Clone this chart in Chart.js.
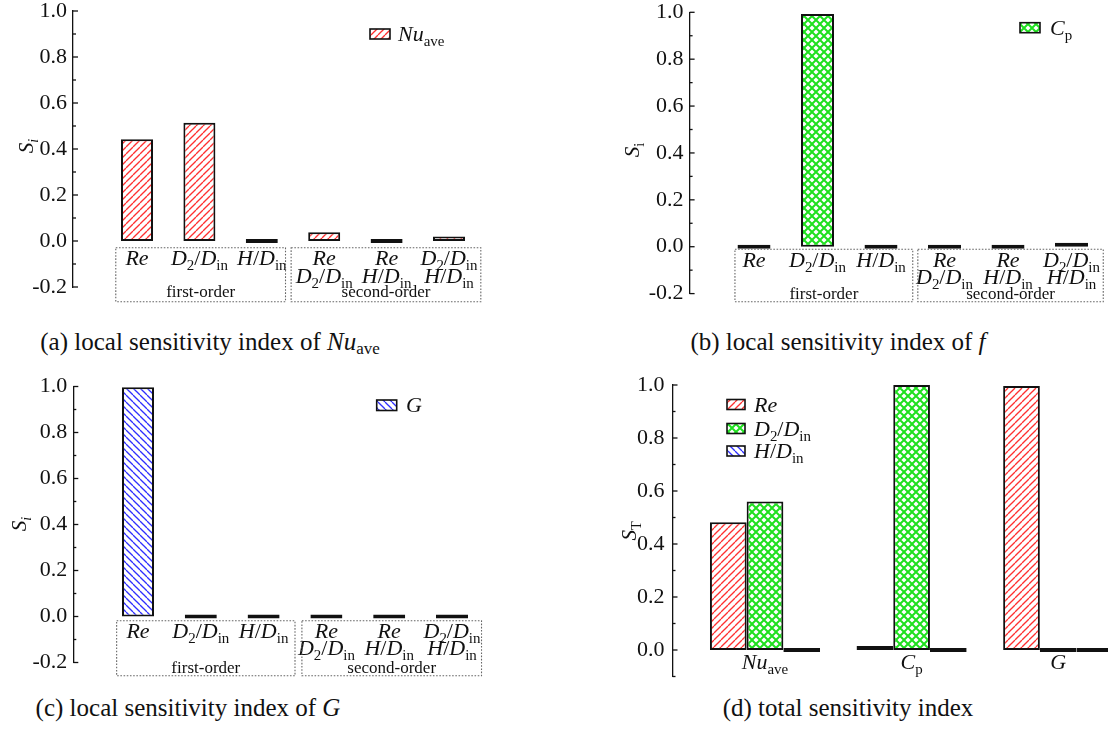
<!DOCTYPE html>
<html>
<head>
<meta charset="utf-8">
<title>Sensitivity indices</title>
<script src="https://cdn.jsdelivr.net/npm/chart.js@4.4.1/dist/chart.umd.min.js"></script>
<style>
  html, body { margin: 0; padding: 0; background: #fff; }
  #wrap { position: relative; width: 1108px; height: 738px; background: #fff; overflow: hidden; }
  #wrap canvas { position: absolute; }
  .cap { position: absolute; font-family: "Liberation Serif", "Times New Roman", serif; font-size: 25px;
         line-height: 25px; color: #111; white-space: nowrap; transform: translateX(-50%); }
  .cap .s { font-size: 0.68em; position: relative; top: 0.24em; }
</style>
</head>
<body>
<div id="wrap">
  <canvas id="pa"></canvas>
  <canvas id="pb"></canvas>
  <canvas id="pc"></canvas>
  <canvas id="pd"></canvas>
  <div class="cap" style="left:210px;top:329px">(a) local sensitivity index of <i>Nu</i><span class="s">ave</span></div>
  <div class="cap" style="left:838px;top:329px">(b) local sensitivity index of <i>f</i></div>
  <div class="cap" style="left:188px;top:695px">(c) local sensitivity index of <i>G</i></div>
  <div class="cap" style="left:848px;top:695px">(d) total sensitivity index</div>
</div>
<script>
// ---- data -------------------------------------------------------------
// Terms of the decomposition; "|" separates the two factors of an interaction term
const localTerms = ['Re', 'D_{2}/D_{in}', 'H/D_{in}', 'Re|D_{2}/D_{in}', 'Re|H/D_{in}', 'D_{2}/D_{in}|H/D_{in}'];
const termGroups = [
  { name: 'first-order', first: 0, last: 2 },
  { name: 'second-order', first: 3, last: 5 }
];
const localNu = [0.442, 0.514, 0, 0.038, 0, 0.02];
const localCp = [0, 0.993, 0, 0, 0, 0.006];
const localG  = [0.997, 0, 0, 0, 0, 0];

const responses = ['Nu_{ave}', 'C_{p}', 'G'];
const factors   = ['Re', 'D_{2}/D_{in}', 'H/D_{in}'];
const totalRe = [0.482, 0.006, 0.996];
const totalD2 = [0.56, 1.0, 0];
const totalH  = [0, 0, 0];

const localTicks = [-0.2, 0, 0.2, 0.4, 0.6, 0.8, 1.0];
const totalTicks = [0, 0.2, 0.4, 0.6, 0.8, 1.0];

// ---- drawing helpers --------------------------------------------------
const FONT = '"Liberation Serif", "Times New Roman", serif';
const INK = '#111';

function hatch(color, kind, gap, lw) {
  const c = document.createElement('canvas');
  c.width = c.height = gap;
  const g = c.getContext('2d');
  g.fillStyle = '#fff';
  g.fillRect(0, 0, gap, gap);
  g.strokeStyle = color;
  g.lineWidth = lw;
  for (let k = -1; k <= 1; k++) {
    g.beginPath();
    if (kind === '/' || kind === 'x') { g.moveTo(k * gap, gap); g.lineTo(k * gap + gap, 0); }
    if (kind === '\\' || kind === 'x') { g.moveTo(k * gap, 0); g.lineTo(k * gap + gap, gap); }
    g.stroke();
  }
  return document.createElement('canvas').getContext('2d').createPattern(c, 'repeat');
}
const redFill = hatch('#ff3030', '/', 7, 1.3);
const greenFill = hatch('#1fe01f', 'x', 8, 2.0);
const blueFill = hatch('#2f2fff', '\\', 7, 1.3);

// letters in italics, _{..} upright subscript, _{*..} italic subscript
function richParts(s) {
  const re = /_\{(\*?)([^}]*)\}|([A-Za-z]+)|([^A-Za-z_]+)/g;
  const out = [];
  let m;
  while ((m = re.exec(s))) {
    if (m[0][0] === '_') out.push({ t: m[2], sub: true, it: m[1] === '*' });
    else if (m[3]) out.push({ t: m[3], it: true });
    else out.push({ t: m[4] });
  }
  return out;
}
function drawRich(ctx, s, x, y, size, align) {
  const parts = richParts(s);
  const font = p => `${p.it ? 'italic ' : ''}${p.sub ? size * 0.68 : size}px ${FONT}`;
  let w = 0;
  parts.forEach(p => { ctx.font = font(p); p.w = ctx.measureText(p.t).width; w += p.w; });
  let cx = align === 'left' ? x : x - w / 2;
  ctx.textAlign = 'left';
  ctx.textBaseline = 'alphabetic';
  parts.forEach(p => {
    ctx.font = font(p);
    ctx.fillText(p.t, cx, y + (p.sub ? size * 0.24 : 0));
    cx += p.w;
  });
}

// ---- panel layout (page pixels) ----------------------------------------
const panels = {
  pa: {
    lay: { left: 0, top: 0, w: 490, h: 310, axisX: 73, yTop: 11, yBot: 287, ymin: -0.2, ymax: 1.0, firstX: 137, step: 62.4, tickPad: 6 },
    ticks: localTicks, terms: localTerms, groups: termGroups,
    boxes: [[-0.34, 0.38], [-0.53, 0.51]], boxY: [6.7, 60.7], lineY: [24, 42], groupY: 56,
    legend: [{ label: 'Nu_{ave}', fill: redFill, x: 370, y: 29, w: 20, h: 10, tx: 398 }],
    yTitle: { text: 'S_{*i}', x: 26, y: 146 }
  },
  pb: {
    lay: { left: 540, top: 0, w: 568, h: 310, axisX: 689.6, yTop: 12.3, yBot: 293.6, ymin: -0.2, ymax: 1.0, firstX: 754, step: 63.5, tickPad: 6 },
    ticks: localTicks, terms: localTerms, groups: termGroups,
    boxes: [[-0.30, 0.50], [-0.42, 0.50]], boxY: [2.6, 55], lineY: [20, 37], groupY: 52,
    legend: [{ label: 'C_{p}', fill: greenFill, x: 1020, y: 22.7, w: 20, h: 10, tx: 1050 }],
    yTitle: { text: 'S_{i}', x: 632, y: 150 }
  },
  pc: {
    lay: { left: 0, top: 360, w: 490, h: 325, axisX: 73.3, yTop: 386.5, yBot: 662.5, ymin: -0.2, ymax: 1.0, firstX: 138, step: 62.8, tickPad: 6 },
    ticks: localTicks, terms: localTerms, groups: termGroups,
    boxes: [[-0.34, 0.50], [-0.39, 0.47]], boxY: [4.3, 59.3], lineY: [21, 38.5], groupY: 56,
    legend: [{ label: 'G', fill: blueFill, x: 376.7, y: 400, w: 20, h: 10.5, tx: 406 }],
    yTitle: { text: 'S_{*i}', x: 19, y: 524 }
  },
  pd: {
    lay: { left: 560, top: 360, w: 548, h: 330, axisX: 672.5, yTop: 385, yBot: 676.5, ymin: -0.1, ymax: 1.0, firstX: 765, step: 146.6, tickPad: 8 },
    ticks: totalTicks, terms: responses, lineY: [19],
    legend: [
      { label: factors[0], fill: redFill, x: 727, y: 399.5, w: 18, h: 10, tx: 754 },
      { label: factors[1], fill: greenFill, x: 727, y: 423.5, w: 18, h: 10, tx: 754 },
      { label: factors[2], fill: blueFill, x: 727, y: 446, w: 18, h: 10, tx: 754 }
    ],
    yTitle: { text: 'S_{T}', x: 629, y: 531 }
  }
};

// inward ticks, rich category labels, group frames, legend and axis title
const panelPlugin = {
  id: 'panelDecor',
  afterDraw(chart) {
    const P = panels[chart.canvas.id];
    const L = P.lay, ox = L.left, oy = L.top;
    const ctx = chart.ctx, xs = chart.scales.x, ys = chart.scales.y;
    const ax = chart.chartArea.left;
    ctx.save();
    ctx.strokeStyle = INK;
    ctx.lineWidth = 1.3;
    ys.ticks.forEach(t => {
      const y = ys.getPixelForValue(t.value);
      ctx.beginPath();
      ctx.moveTo(ax, y);
      ctx.lineTo(ax + (t.label ? 5 : 3), y);
      ctx.stroke();
    });

    const zero = ys.getPixelForValue(0);
    const step = xs.getPixelForValue(2) - xs.getPixelForValue(1);
    ctx.fillStyle = INK;
    P.terms.forEach((term, i) => {
      const x = xs.getPixelForValue(i + 1);
      term.split('|').forEach((ln, k) => drawRich(ctx, ln, x, zero + P.lineY[k], 22));
    });

    if (P.groups) {
      P.groups.forEach((g, k) => {
        const x0 = xs.getPixelForValue(g.first + 1) + P.boxes[k][0] * step;
        const x1 = xs.getPixelForValue(g.last + 1) + P.boxes[k][1] * step;
        ctx.save();
        ctx.strokeStyle = '#666';
        ctx.lineWidth = 1.1;
        ctx.setLineDash([1.6, 1.6]);
        ctx.strokeRect(x0, zero + P.boxY[0], x1 - x0, P.boxY[1] - P.boxY[0]);
        ctx.restore();
        ctx.font = `17px ${FONT}`;
        ctx.textAlign = 'center';
        ctx.fillText(g.name, (x0 + x1) / 2, zero + P.groupY);
      });
    }

    P.legend.forEach(e => {
      const x = e.x - ox, y = e.y - oy;
      ctx.fillStyle = e.fill;
      ctx.fillRect(x, y, e.w, e.h);
      ctx.strokeStyle = INK;
      ctx.lineWidth = 1.6;
      ctx.strokeRect(x, y, e.w, e.h);
      ctx.fillStyle = INK;
      drawRich(ctx, e.label, e.tx - ox, y + e.h / 2 + 7, 22, 'left');
    });

    ctx.translate(P.yTitle.x - ox, P.yTitle.y - oy);
    ctx.rotate(-Math.PI / 2);
    drawRich(ctx, P.yTitle.text, 0, 7, 21);
    ctx.restore();
  }
};

function barSet(values, fill, thickness) {
  return {
    data: values.map((v, i) => ({ x: i + 1, y: v })),
    backgroundColor: fill,
    borderColor: INK,
    borderWidth: 2,
    borderSkipped: false,
    inflateAmount: 0,
    minBarLength: 4,
    barThickness: thickness
  };
}

function makePanel(id, datasets) {
  const P = panels[id], L = P.lay;
  const canvas = document.getElementById(id);
  canvas.width = L.w;
  canvas.height = L.h;
  canvas.style.left = L.left + 'px';
  canvas.style.top = L.top + 'px';
  const xmin = 1 - (L.firstX - L.axisX) / L.step;
  const xmax = xmin + (L.left + L.w - L.axisX) / L.step;
  const isMajor = v => P.ticks.some(m => Math.abs(m - v) < 1e-6);
  new Chart(canvas, {
    type: 'bar',
    data: { datasets },
    options: {
      responsive: false,
      animation: false,
      events: [],
      layout: { padding: { left: 0, right: 0, top: L.yTop - L.top, bottom: L.top + L.h - L.yBot } },
      scales: {
        x: { type: 'linear', display: false, offset: false, min: xmin, max: xmax, grid: { offset: false } },
        y: {
          min: L.ymin, max: L.ymax,
          afterFit: s => { s.width = L.axisX - L.left; s.paddingTop = 0; s.paddingBottom = 0; },
          grid: { display: false, drawTicks: false },
          border: { display: true, color: INK, width: 1.3 },
          ticks: {
            stepSize: 0.1, autoSkip: false, padding: L.tickPad, color: INK,
            font: { family: FONT, size: 22 },
            callback: v => isMajor(v) ? (Math.abs(v) < 1e-9 ? 0 : v).toFixed(1) : ''
          }
        }
      },
      plugins: { legend: { display: false }, tooltip: { enabled: false } }
    },
    plugins: [panelPlugin]
  });
}

makePanel('pa', [barSet(localNu, redFill, 32)]);
makePanel('pb', [barSet(localCp, greenFill, 33)]);
makePanel('pc', [barSet(localG, blueFill, 32)]);
makePanel('pd', [
  barSet(totalRe, redFill, 36.7),
  barSet(totalD2, greenFill, 36.7),
  barSet(totalH, blueFill, 36.7)
]);
</script>
</body>
</html>
